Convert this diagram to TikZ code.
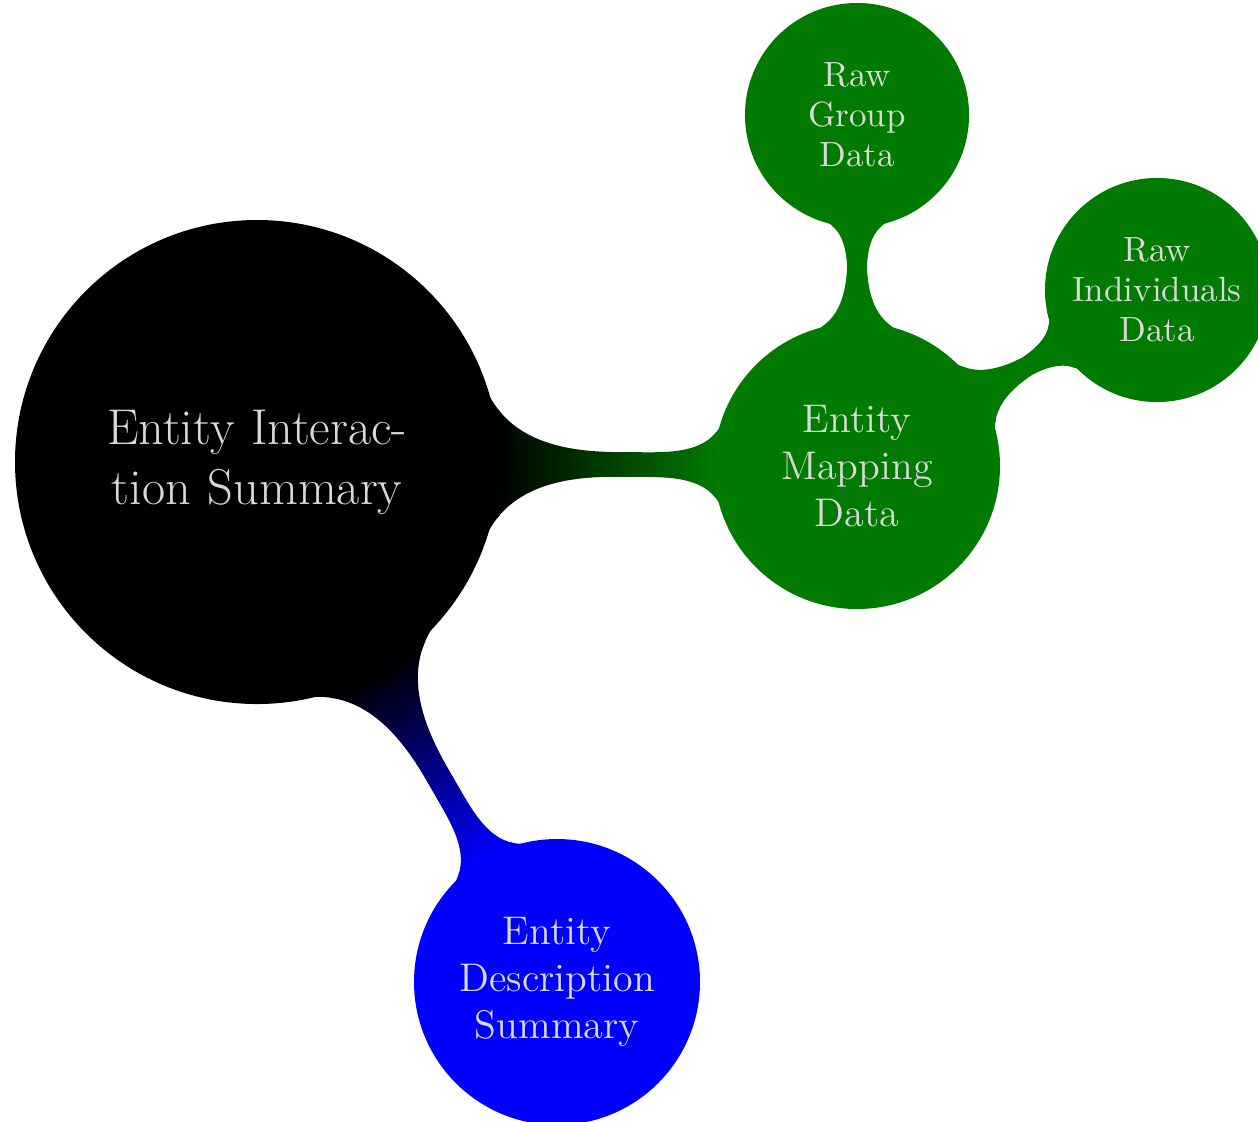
\documentclass[tikz,border=0pt]{standalone}
\usetikzlibrary{mindmap,backgrounds}
\definecolor{mapgreen}{RGB}{0,122,0}
\begin{document}
\begin{tikzpicture}[x=0.3pt,y=-0.3pt, mindmap,
  rootc/.style={concept, concept color=black, text=black!15, minimum size=144pt, text width=100pt, font=\fontsize{15.1}{18}\selectfont, align=center},
  lvlone/.style={concept, text=black!15, minimum size=84.6pt, text width=70pt, font=\large, align=center},
  lvltwo/.style={concept, text=black!15, minimum size=66pt, text width=55pt, font=\fontsize{10.5}{12}\selectfont, align=center}]
\useasboundingbox (0,0) rectangle (1258,1121);
\node[rootc] (root) at (257,462) {Entity Interac-\\tion Summary};
\node[lvlone, concept color=mapgreen] (map) at (857,466) {Entity\\Mapping\\Data};
\node[lvltwo, concept color=mapgreen] (group) at (857,115) {Raw\\Group\\Data};
\node[lvltwo, concept color=mapgreen] (indiv) at (1157,290) {Raw\\Individuals\\Data};
\node[lvlone, concept color=blue] (desc) at (557,982) {Entity\\Description\\Summary};
\begin{pgfonlayer}{background}
\path (root) to[circle connection bar switch color=from (black) to (mapgreen)] (map);
\path (root) to[circle connection bar switch color=from (black) to (blue)] (desc);
\path (map) to[circle connection bar switch color=from (mapgreen) to (mapgreen)] (group);
\path (map) to[circle connection bar switch color=from (mapgreen) to (mapgreen)] (indiv);
\end{pgfonlayer}
\end{tikzpicture}
\end{document}
